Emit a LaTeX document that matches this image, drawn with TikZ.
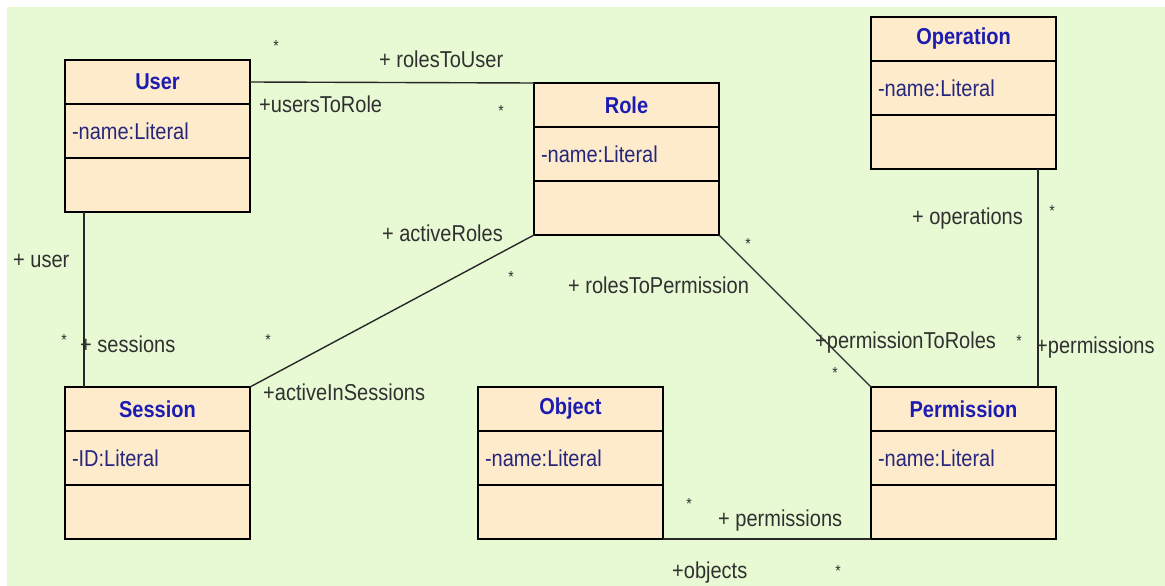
\documentclass[tikz,border=0pt]{standalone}
\usepackage{fontspec}
\setmainfont{Liberation Sans}
\newfontfamily\umlfont[FakeStretch=0.87]{Liberation Sans}
\usetikzlibrary{positioning,calc}

\definecolor{canvasgreen}{RGB}{232,250,212}
\definecolor{classfill}{RGB}{253,235,203}
\definecolor{titleblue}{RGB}{28,28,178}
\definecolor{attrblue}{RGB}{38,38,125}
\definecolor{labelgray}{RGB}{48,48,48}
\definecolor{linegray}{RGB}{40,40,40}

\begin{document}
\begin{tikzpicture}[x=1pt, y=-1pt,
  classhead/.style={
    draw, rectangle, anchor=north west, outer sep=0pt, inner sep=0pt,
    minimum width=185pt, minimum height=44pt, line width=1.3pt,
    fill=classfill, text=titleblue, font=\umlfont\fontsize{23}{26}\selectfont\bfseries
  },
  classattr/.style={
    draw, rectangle, outer sep=0pt, inner xsep=7pt, inner ysep=0pt,
    text width=171pt, align=left, minimum height=54pt, line width=1.3pt,
    fill=classfill, text=attrblue, font=\umlfont\fontsize{23}{26}\selectfont
  },
  classops/.style={
    draw, rectangle, outer sep=0pt, inner sep=0pt,
    minimum width=185pt, minimum height=54pt, line width=1.3pt,
    fill=classfill
  },
  endname/.style={
    inner sep=0pt, text height=16pt, text depth=0pt, anchor=west,
    text=labelgray, font=\umlfont\fontsize{23}{26}\selectfont
  },
  mult/.style={inner sep=0pt, anchor=north, text=labelgray, font=\umlfont\fontsize{16}{18}\selectfont},
  assoc/.style={draw=linegray, line width=1.4pt}
]

\useasboundingbox (0,0) rectangle (1165,586);
\fill[white] (0,0) rectangle (1165,586);
\fill[canvasgreen] (7,7) rectangle (1165,586);

% classes
\node[classhead] (user) at (65,60) {User};
\node[classattr, below=0pt of user] (userattr) {-name:Literal};
\node[classops, below=0pt of userattr] (userops) {};

\node[classhead] (role) at (534,83) {Role};
\node[classattr, below=0pt of role] (roleattr) {-name:Literal};
\node[classops, below=0pt of roleattr] (roleops) {};

\node[classhead] (operation) at (871,17) {Operation};
\node[classattr, below=0pt of operation] (operationattr) {-name:Literal};
\node[classops, below=0pt of operationattr] (operationops) {};

\node[classhead] (session) at (65,387) {Session};
\node[classattr, below=0pt of session] (sessionattr) {-ID:Literal};
\node[classops, below=0pt of sessionattr] (sessionops) {};

\node[classhead] (object) at (478,387) {Object};
\node[classattr, below=0pt of object] (objectattr) {-name:Literal};
\node[classops, below=0pt of objectattr] (objectops) {};

\node[classhead] (permission) at (871,387) {Permission};
\node[classattr, below=0pt of permission] (permissionattr) {-name:Literal};
\node[classops, below=0pt of permissionattr] (permissionops) {};

% associations
\draw[assoc] (user.east) -- (role.north west);
\draw[assoc] ([xshift=19pt]userops.south west) -- ([xshift=19pt]session.north west);
\draw[assoc] (roleops.south west) -- (session.north east);
\draw[assoc] (roleops.south east) -- (permission.north west);
\draw[assoc] ([xshift=-18pt]operationops.south east) -- ([xshift=-18pt]permission.north east);
\draw[assoc] (objectops.south east) -- (permissionops.south west);

% role names
\node[endname] (rolesToUser) at (379,59) {+ rolesToUser};
\node[endname] (usersToRole) at (259,105) {+usersToRole};
\node[endname, anchor=east] (activeRoles) at (503,233) {+ activeRoles};
\node[endname] (userEnd) at (13,259) {+ user};
\node[endname] (sessionsEnd) at (80,344) {+ sessions};
\node[endname] (activeInSessions) at (263,392) {+activeInSessions};
\node[endname, anchor=east] (operationsEnd) at (1023,216) {+ operations};
\node[endname] (rolesToPermission) at (568,285) {+ rolesToPermission};
\node[endname] (permissionToRoles) at (815,340) {+permissionToRoles};
\node[endname] (permissionsOp) at (1036,345) {+permissions};
\node[endname] (permissionsObj) at (718,518) {+ permissions};
\node[endname] (objectsEnd) at (672,570) {+objects};

% multiplicities
\node[mult] (m1) at (276,40) {*};
\node[mult] (m2) at (501,105) {*};
\node[mult] (m3) at (511,271) {*};
\node[mult] (m4) at (64,334) {*};
\node[mult] (m5) at (268,334) {*};
\node[mult] (m6) at (1052,205) {*};
\node[mult] (m7) at (748,238) {*};
\node[mult] (m8) at (1019,335) {*};
\node[mult] (m9) at (835,367) {*};
\node[mult] (m10) at (689,498) {*};
\node[mult] (m11) at (838,565) {*};

\end{tikzpicture}
\end{document}
